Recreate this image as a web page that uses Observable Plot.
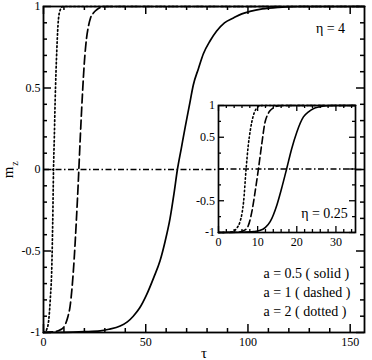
<!DOCTYPE html>
<html><head><meta charset="utf-8">
<script src="https://cdn.jsdelivr.net/npm/d3@7"></script>
<script src="https://cdn.jsdelivr.net/npm/@observablehq/plot@0.6"></script>
<style>
body{margin:0;background:#fff;}
#wrap{position:relative;width:372px;height:360px;overflow:hidden;background:#fff;}
#wrap svg{position:absolute;overflow:visible;}
#wrap svg, #wrap svg text{font-family:"Liberation Serif","DejaVu Serif",serif !important;}
</style></head><body><div id="wrap"></div>
<script>
// ---- main panel (eta = 4): [tau, m_z]
const mainSolid = [[0,-1],[10,-0.999],[20,-0.995],[27.7,-0.99],[32,-0.98],[37.5,-0.96],[41,-0.935],[43.9,-0.9],[47,-0.85],[50.5,-0.766],[54,-0.66],[57,-0.56],[59.5,-0.44],[61.9,-0.3],[63.8,-0.15],[65.5,0],[67.4,0.13],[69.3,0.26],[71.3,0.39],[73.3,0.52],[75.8,0.62],[78.2,0.71],[81.5,0.79],[84.7,0.85],[88.5,0.9],[92.9,0.93],[97,0.955],[101,0.97],[107,0.985],[115,0.995],[125,1],[157,1]];
const mainDashed = [[0,-1],[5,-0.995],[8,-0.985],[9.8,-0.97],[11,-0.94],[12,-0.9],[13,-0.84],[14,-0.72],[15,-0.55],[16,-0.33],[17,-0.08],[18,0.2],[19,0.45],[20,0.66],[21,0.8],[22,0.88],[23,0.93],[24.4,0.96],[26,0.98],[28,0.995],[31,1],[157,1]];
const mainDotted = [[0,-1],[1,-0.995],[1.6,-0.98],[2.5,-0.93],[3.3,-0.8],[4.1,-0.58],[4.5,-0.33],[4.9,0],[5.3,0.2],[5.7,0.42],[6.5,0.73],[7.3,0.92],[8.2,0.98],[9.5,1],[157,1]];
// ---- inset (eta = 0.25): [tau, m_z]
const insetSolid = [[0,-1],[6,-0.995],[9,-0.985],[10.5,-0.97],[12,-0.92],[13.2,-0.83],[14.9,-0.57],[16.1,-0.31],[17.4,0],[18.7,0.32],[20,0.58],[21.7,0.82],[23,0.9],[24.2,0.95],[26,0.98],[27.6,0.995],[30,1],[35,1]];
const insetDashed = [[0,-1],[4.7,-0.995],[6,-0.98],[7.2,-0.94],[8.5,-0.68],[9.35,-0.36],[10.2,0],[11,0.37],[11.9,0.74],[12.5,0.85],[13.2,0.92],[14,0.96],[14.9,0.99],[16,1],[35,1]];
const insetDotted = [[0,-1],[3,-0.995],[3.8,-0.98],[4.7,-0.93],[5.5,-0.83],[6,-0.7],[6.4,-0.52],[7.05,0],[7.6,0.37],[8.1,0.6],[8.5,0.74],[9.1,0.88],[9.8,0.96],[10.6,0.995],[11.5,1],[35,1]];
// ---- ticks and labels
const mainXTicks = [0,50,100,150];
const mainXMinor = [10,20,30,40,60,70,80,90,110,120,130,140];
const mainYTicks = [-1,-0.5,0,0.5,1];
const mainYMinor = [-0.9,-0.8,-0.7,-0.6,-0.4,-0.3,-0.2,-0.1,0.1,0.2,0.3,0.4,0.6,0.7,0.8,0.9];
const insetXTicks = [0,10,20,30];
const insetXMinor = [2,4,6,8,12,14,16,18,22,24,26,28,32,34];
const insetYTicks = [-1,-0.5,0,0.5,1];
const insetYLabels = [-1,-0.5,0.5,1];
const insetYMinor = [-0.75,-0.25,0.25,0.75];
const mainTitle = "η = 4";
const insetTitle = "η = 0.25";
const legendLines = ["a = 0.5 ( solid )","a = 1 ( dashed )","a = 2 ( dotted )"];
const xLabel = "τ";
const yLabel = ["m","z"];

const FONT = "font-family:'Liberation Serif','DejaVu Serif',serif;font-size:12px;color:black;";
const DASH = "9,4", DOT = "1.5,2.6", DASHDOT = "6,2.5,1.5,2.5";
const fmt = d => String(d);

function frameTicks(fw, fh, xMaj, xMin, yMaj, yMin, Lmaj, Lmin, sw) {
  const o = {stroke:"black", strokeWidth: sw};
  return [
    Plot.tickX(xMaj, {x: d=>d, insetTop: fh - Lmaj, ...o}),
    Plot.tickX(xMaj, {x: d=>d, insetBottom: fh - Lmaj, ...o}),
    Plot.tickX(xMin, {x: d=>d, insetTop: fh - Lmin, ...o}),
    Plot.tickX(xMin, {x: d=>d, insetBottom: fh - Lmin, ...o}),
    Plot.tickY(yMaj, {y: d=>d, insetRight: fw - Lmaj, ...o}),
    Plot.tickY(yMaj, {y: d=>d, insetLeft: fw - Lmaj, ...o}),
    Plot.tickY(yMin, {y: d=>d, insetRight: fw - Lmin, ...o}),
    Plot.tickY(yMin, {y: d=>d, insetLeft: fw - Lmin, ...o})
  ];
}

// main panel geometry
const W = 372, H = 360, mL = 43, mR = 8, mT = 6, mB = 28;
const fw = W - mL - mR, fh = H - mT - mB;
const curve = "monotone-x";

const main = Plot.plot({
  width: W, height: H, marginLeft: mL, marginRight: mR, marginTop: mT, marginBottom: mB,
  x: {domain: [0,157], label: null},
  y: {domain: [-1,1], label: null},
  style: FONT + "background:white;",
  marks: [
    Plot.ruleY([0], {stroke:"black", strokeWidth:1.3, strokeDasharray: DASHDOT}),
    Plot.line(mainSolid, {x: d=>d[0], y: d=>d[1], curve, stroke:"black", strokeWidth:1.7}),
    Plot.line(mainDashed, {x: d=>d[0], y: d=>d[1], curve, stroke:"black", strokeWidth:1.7, strokeDasharray: DASH}),
    Plot.line(mainDotted, {x: d=>d[0], y: d=>d[1], curve, stroke:"black", strokeWidth:1.7, strokeDasharray: DOT}),
    Plot.frame({stroke:"black", strokeWidth:1.8}),
    ...frameTicks(fw, fh, mainXTicks, mainXMinor, mainYTicks, mainYMinor, 8, 4, 1.5),
    Plot.axisX(mainXTicks, {anchor:"bottom", tickSize:0, tickPadding:5, tickFormat: fmt, label: null, fontSize: 12}),
    Plot.axisY(mainYTicks, {anchor:"left", tickSize:0, tickPadding:3, tickFormat: fmt, label: null, fontSize: 12}),
    Plot.text([xLabel], {frameAnchor:"bottom", dy: 21, fontSize: 15, lineAnchor:"middle"}),
    Plot.text([yLabel[0]], {frameAnchor:"left", dx: -35, dy: 3, rotate: -90, fontSize: 15, textAnchor:"middle", lineAnchor:"middle"}),
    Plot.text([yLabel[1]], {frameAnchor:"left", dx: -29, dy: -6, rotate: -90, fontSize: 10, textAnchor:"middle", lineAnchor:"middle"}),
    Plot.text([mainTitle], {frameAnchor:"top-right", dx: -34, dy: 22, fontSize: 14, textAnchor:"middle", lineAnchor:"middle"}),
    Plot.text([legendLines[0]], {frameAnchor:"bottom-right", dx: -101, dy: -59, fontSize: 14, textAnchor:"start", lineAnchor:"middle"}),
    Plot.text([legendLines[1]], {frameAnchor:"bottom-right", dx: -101, dy: -40, fontSize: 14, textAnchor:"start", lineAnchor:"middle"}),
    Plot.text([legendLines[2]], {frameAnchor:"bottom-right", dx: -101, dy: -21, fontSize: 14, textAnchor:"start", lineAnchor:"middle"})
  ]
});

// inset geometry
const iL = 28, iR = 4, iT = 10, iB = 18, ifw = 137, ifh = 127;
const inset = Plot.plot({
  width: iL + ifw + iR, height: iT + ifh + iB, marginLeft: iL, marginRight: iR, marginTop: iT, marginBottom: iB,
  x: {domain: [0,35], label: null},
  y: {domain: [-1,1], label: null},
  style: FONT + "background:transparent;",
  marks: [
    Plot.frame({fill:"white", stroke:"none"}),
    Plot.ruleY([0], {stroke:"black", strokeWidth:1.3, strokeDasharray: DASHDOT}),
    Plot.line(insetSolid, {x: d=>d[0], y: d=>d[1], curve, stroke:"black", strokeWidth:1.6}),
    Plot.line(insetDashed, {x: d=>d[0], y: d=>d[1], curve, stroke:"black", strokeWidth:1.6, strokeDasharray: "7,3.5"}),
    Plot.line(insetDotted, {x: d=>d[0], y: d=>d[1], curve, stroke:"black", strokeWidth:1.6, strokeDasharray: DOT}),
    Plot.frame({stroke:"black", strokeWidth:1.7}),
    ...frameTicks(ifw, ifh, insetXTicks, insetXMinor, insetYTicks, insetYMinor, 6, 3, 1.3),
    Plot.axisX(insetXTicks, {anchor:"bottom", tickSize:0, tickPadding:5, tickFormat: fmt, label: null, fontSize: 12}),
    Plot.axisY(insetYLabels, {anchor:"left", tickSize:0, tickPadding:3.5, tickFormat: fmt, label: null, fontSize: 12}),
    Plot.text([insetTitle], {frameAnchor:"bottom-right", dx: -31, dy: -19, fontSize: 14, textAnchor:"middle", lineAnchor:"middle"})
  ]
});

const wrap = document.getElementById("wrap");
main.style.left = "0px"; main.style.top = "0px";
inset.style.left = (218 - iL) + "px"; inset.style.top = (105 - iT) + "px";
wrap.appendChild(main);
wrap.appendChild(inset);
</script>
</body></html>
